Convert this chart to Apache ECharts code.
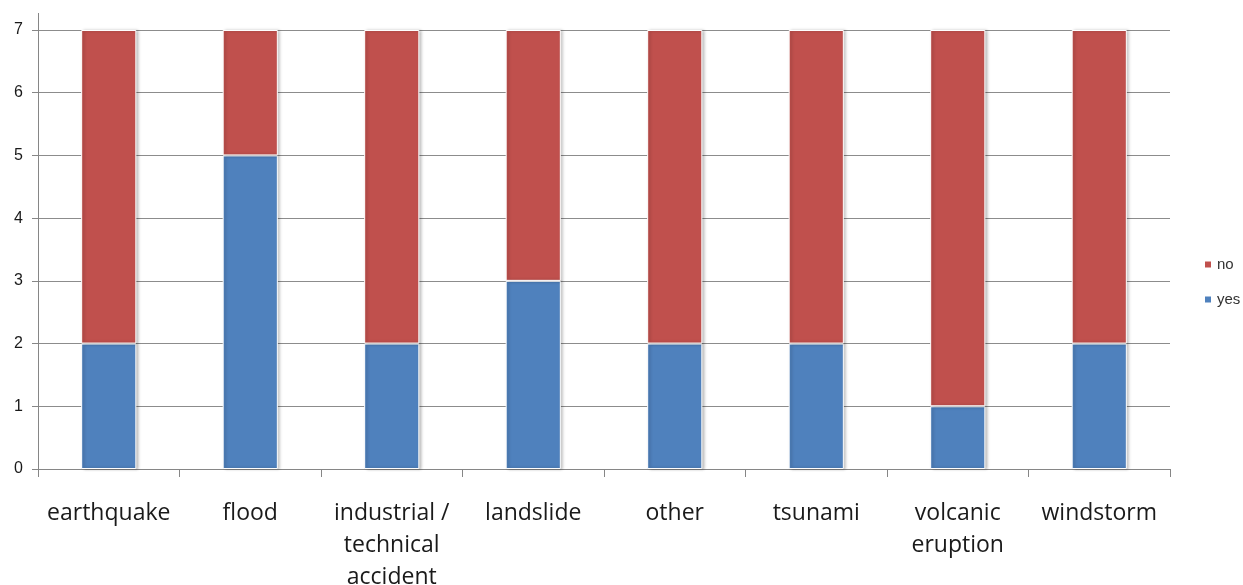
<!DOCTYPE html>
<html>
<head>
<meta charset="utf-8">
<script src="https://cdn.jsdelivr.net/npm/echarts@6/dist/echarts.min.js"></script>
<style>
  html, body { margin: 0; padding: 0; background: #fff; }
  #chart { width: 1243px; height: 585px; }
</style>
</head>
<body>
<div id="chart"></div>
<script>
// Hazard types and counts of yes / no answers
const categories = ['earthquake', 'flood', 'industrial /\ntechnical\naccident', 'landslide', 'other', 'tsunami', 'volcanic\neruption', 'windstorm'];
const yesValues = [2, 5, 2, 3, 2, 2, 1, 2];
const noValues = [5, 2, 5, 4, 5, 5, 6, 5];
const yTicks = [0, 1, 2, 3, 4, 5, 6, 7];

const chart = echarts.init(document.getElementById('chart'));

const barStyle = (color) => ({
  color: color,
  borderColor: '#ffffff',
  borderWidth: 1,
  shadowColor: 'rgba(0,0,0,0.28)',
  shadowBlur: 3,
  shadowOffsetX: 2,
  shadowOffsetY: 0
});

chart.setOption({
  animation: false,
  backgroundColor: '#ffffff',
  grid: { left: 38, right: 73, top: 30, bottom: 116, containLabel: false, outerBoundsMode: 'none' },
  legend: {
    orient: 'vertical',
    left: 1198,
    top: 252,
    itemWidth: 8,
    itemHeight: 8,
    itemGap: 20,
    icon: 'rect',
    textStyle: { fontFamily: 'Liberation Sans, Arial, sans-serif', fontSize: 15, color: '#333' },
    data: ['no', 'yes']
  },
  xAxis: {
    type: 'category',
    data: categories,
    axisLine: { lineStyle: { color: '#868686', width: 1 } },
    axisTick: { show: true, length: 8, lineStyle: { color: '#868686' }, alignWithLabel: false },
    axisLabel: {
      interval: 0,
      margin: 28,
      fontFamily: 'Open Sans, Liberation Sans, sans-serif',
      fontSize: 23,
      lineHeight: 32,
      color: '#1a1a1a'
    }
  },
  yAxis: {
    type: 'value',
    min: yTicks[0],
    max: yTicks[yTicks.length - 1],
    interval: 1,
    axisLine: { show: true, lineStyle: { color: '#868686', width: 1 } },
    axisTick: { show: true, length: 6, lineStyle: { color: '#868686' } },
    axisLabel: {
      margin: 15,
      fontFamily: 'Liberation Sans, Arial, sans-serif',
      fontSize: 16,
      color: '#1a1a1a'
    },
    splitLine: { show: true, lineStyle: { color: '#8c8c8c', width: 1 } }
  },
  series: [
    {
      name: 'yes',
      type: 'bar',
      stack: 'total',
      barWidth: '39%',
      data: yesValues,
      itemStyle: barStyle('#4F81BD')
    },
    {
      name: 'no',
      type: 'bar',
      stack: 'total',
      barWidth: '39%',
      data: noValues,
      itemStyle: barStyle('#C0504D')
    }
  ]
});

// Value axis line continues a little above the top gridline
const topPx = chart.convertToPixel({ yAxisIndex: 0 }, yTicks[yTicks.length - 1]);
const axisX = chart.convertToPixel({ xAxisIndex: 0 }, categories[0]) - (chart.convertToPixel({ xAxisIndex: 0 }, categories[1]) - chart.convertToPixel({ xAxisIndex: 0 }, categories[0])) / 2;
chart.setOption({
  graphic: [{
    type: 'line',
    shape: { x1: Math.round(axisX) + 0.5, y1: topPx - 17, x2: Math.round(axisX) + 0.5, y2: topPx },
    style: { stroke: '#868686', lineWidth: 1 },
    silent: true
  }]
});
</script>
</body>
</html>
